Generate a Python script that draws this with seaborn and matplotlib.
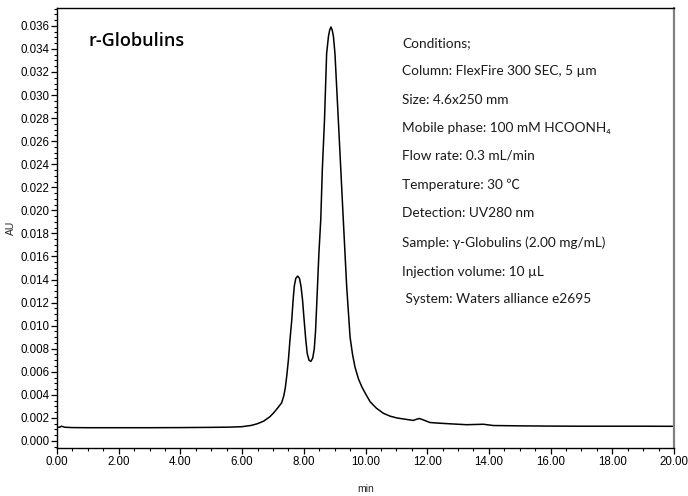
import numpy as np
import pandas as pd
import matplotlib
matplotlib.use("Agg")
import matplotlib.pyplot as plt
import seaborn as sns
from matplotlib.ticker import MultipleLocator, FormatStrFormatter

# ---- data ----
time_min = [0.00, 0.08, 0.15, 0.25, 0.50, 1.00, 2.00, 3.00, 4.00, 5.00, 5.60, 6.00,
            6.30, 6.50, 6.70, 6.90, 7.01, 7.15, 7.28, 7.35, 7.40, 7.45, 7.50, 7.55,
            7.61, 7.65, 7.69, 7.74, 7.80, 7.86, 7.91, 7.96, 8.01, 8.06, 8.11, 8.17,
            8.23, 8.29, 8.34, 8.38, 8.42, 8.49, 8.55, 8.60, 8.67, 8.74, 8.80, 8.84,
            8.88, 8.92, 8.96, 9.01, 9.12, 9.20, 9.28, 9.39, 9.50, 9.58, 9.66, 9.77,
            9.88, 10.00, 10.15, 10.35, 10.58, 10.80, 11.01, 11.30, 11.55, 11.65, 11.75,
            11.85, 12.09, 12.40, 12.80, 13.28, 13.82, 14.14, 15.00, 16.00, 17.00,
            18.00, 19.00, 20.00]
absorbance = [0.00118, 0.00119, 0.00128, 0.00119, 0.00116, 0.00115, 0.00115, 0.00115,
              0.00116, 0.00118, 0.00120, 0.00124, 0.00135, 0.00150, 0.00172, 0.00210,
              0.00240, 0.00285, 0.00330, 0.00390, 0.00460, 0.00570, 0.00700, 0.00870,
              0.01050, 0.01210, 0.01340, 0.01410, 0.01430, 0.01410, 0.01340, 0.01220,
              0.01050, 0.00890, 0.00760, 0.00700, 0.00690, 0.00720, 0.00800, 0.00950,
              0.01190, 0.01630, 0.01920, 0.02350, 0.02780, 0.03360, 0.03510, 0.03565,
              0.03590, 0.03565, 0.03510, 0.03360, 0.02780, 0.02350, 0.01920, 0.01340,
              0.00900, 0.00750, 0.00640, 0.00540, 0.00470, 0.00410, 0.00340, 0.00285,
              0.00240, 0.00215, 0.00200, 0.00188, 0.00178, 0.00188, 0.00195, 0.00185,
              0.00160, 0.00154, 0.00148, 0.00141, 0.00145, 0.00134, 0.00131, 0.00129,
              0.00128, 0.00128, 0.00128, 0.00127]

title_text = "r-Globulins"
condition_lines = [
    "Conditions;",
    "Column: FlexFire 300 SEC, 5 µm",
    "Size: 4.6x250 mm",
    "Mobile phase: 100 mM HCOONH₄",
    "Flow rate: 0.3 mL/min",
    "Temperature: 30 ℃",
    "Detection: UV280 nm",
    "Sample: γ-Globulins (2.00 mg/mL)",
    "Injection volume: 10 µL",
    " System: Waters alliance e2695",
]
x_label = "min"
y_label = "AU"

# ---- plot ----
sns.set_theme(style="white")
plt.rcParams["font.family"] = ["Liberation Sans", "DejaVu Sans"]

W, H = 688, 496
fig = plt.figure(figsize=(W / 100, H / 100), dpi=100)
left, right, top, bottom = 57, 674, 8, 448
ax = fig.add_axes([left / W, 1 - bottom / H, (right - left) / W, (bottom - top) / H])

df = pd.DataFrame({"time": time_min, "au": absorbance})
sns.lineplot(data=df, x="time", y="au", ax=ax, color="black", linewidth=1.1,
             sort=False, estimator=None)

ax.set_xlim(0, 20)
ax.set_ylim(-0.00061, 0.03755)
ax.xaxis.set_major_locator(MultipleLocator(2))
ax.xaxis.set_minor_locator(MultipleLocator(0.5))
ax.yaxis.set_major_locator(MultipleLocator(0.002))
ax.yaxis.set_minor_locator(MultipleLocator(0.0005))
ax.xaxis.set_major_formatter(FormatStrFormatter("%.2f"))
ax.yaxis.set_major_formatter(FormatStrFormatter("%.3f"))
ax.tick_params(axis="both", which="major", direction="out", length=4, width=0.9,
               labelsize=8.3, colors="black", pad=1.5, bottom=True, left=True)
ax.tick_params(axis="both", which="minor", direction="out", length=2.2, width=0.8,
               colors="black", bottom=True, left=True)
ax.set_ylim(-0.00061, 0.03755)

ax.set_xlabel(x_label, fontsize=7.5, labelpad=12)
ax.set_ylabel(y_label, fontsize=7.5, labelpad=3)

for side in ["left", "bottom", "top"]:
    ax.spines[side].set_color("black")
    ax.spines[side].set_linewidth(1.0)
ax.spines["right"].set_color("#808080")
ax.spines["right"].set_linewidth(1.6)

cond_font = ["Lato", "Noto Sans CJK JP", "DejaVu Sans"]
fig.text(88 / W, 1 - 41 / H, title_text, fontsize=13, va="center", ha="left",
         family=["Open Sans", "DejaVu Sans"], weight="semibold", color="black")

line_y = [42.7, 70.7, 100, 128.3, 156, 185.3, 213.3, 242.7, 271.7, 299.3]
for txt, yy in zip(condition_lines, line_y):
    fig.text(402.5 / W, 1 - yy / H, txt, fontsize=9.8, va="center", ha="left",
             family=cond_font, color="#1a1a1a")

fig.savefig("out.png", dpi=100)
